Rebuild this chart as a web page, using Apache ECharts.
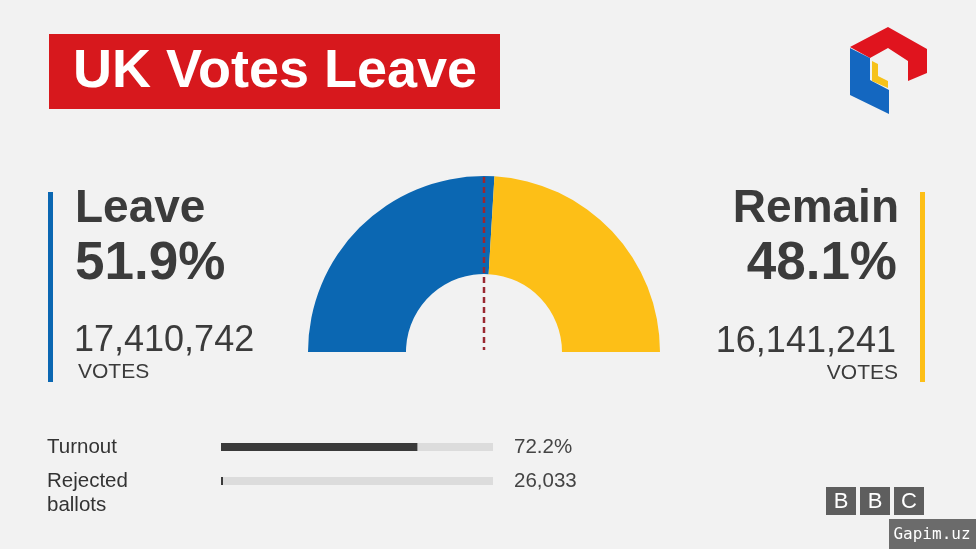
<!DOCTYPE html>
<html><head><meta charset="utf-8">
<style>html,body{margin:0;padding:0;background:#f2f2f2;}#c{width:976px;height:549px;}</style>
<script src="https://cdn.jsdelivr.net/npm/echarts@6/dist/echarts.min.js"></script>
</head><body><div id="c"></div>
<script>
// ---- data ----
const titleText = 'UK Votes Leave';
const sides = ['Leave', 'Remain'];
const votes = [17410742, 16141241];
const percents = ['51.9%', '48.1%'];
const voteTexts = ['17,410,742', '16,141,241'];
const sideColors = ['#0b67b2', '#fdbf17'];
const barLabels = ['Turnout', 'Rejected\nballots'];
const barValues = [72.2, 0.08];
const barTexts = ['72.2%', '26,033'];

const FONT = '"Liberation Sans", Arial, sans-serif';
const TXT = '#3b3b3b';
const chart = echarts.init(document.getElementById('c'), null, {renderer: 'canvas'});

const pieData = sides.map((s, i) => ({name: s, value: votes[i], itemStyle: {color: sideColors[i]}}));
pieData.push({name: 'hidden', value: votes[0] + votes[1], itemStyle: {color: 'rgba(0,0,0,0)'}});

const g = [];
// title box
g.push({type: 'rect', shape: {x: 49, y: 34, width: 451, height: 75}, style: {fill: '#d7181d'}});
g.push({type: 'text', x: 275, y: 72, style: {text: titleText, fill: '#fff', font: 'bold 54px ' + FONT, align: 'center', verticalAlign: 'middle'}});
// side bars
g.push({type: 'rect', shape: {x: 48, y: 192, width: 5, height: 190}, style: {fill: sideColors[0]}});
g.push({type: 'rect', shape: {x: 920, y: 192, width: 5, height: 190}, style: {fill: sideColors[1]}});
// left texts
g.push({type: 'text', x: 75, y: 209, style: {text: sides[0], fill: TXT, font: 'bold 46px ' + FONT, align: 'left', verticalAlign: 'middle'}});
g.push({type: 'text', x: 75, y: 264, style: {text: percents[0], fill: TXT, font: 'bold 53px ' + FONT, align: 'left', verticalAlign: 'middle'}});
g.push({type: 'text', x: 74, y: 341, style: {text: voteTexts[0], fill: TXT, font: '36px ' + FONT, align: 'left', verticalAlign: 'middle'}});
g.push({type: 'text', x: 78, y: 372, style: {text: 'VOTES', fill: TXT, font: '21px ' + FONT, align: 'left', verticalAlign: 'middle'}});
// right texts
g.push({type: 'text', x: 899, y: 209, style: {text: sides[1], fill: TXT, font: 'bold 46px ' + FONT, align: 'right', verticalAlign: 'middle'}});
g.push({type: 'text', x: 897, y: 264, style: {text: percents[1], fill: TXT, font: 'bold 53px ' + FONT, align: 'right', verticalAlign: 'middle'}});
g.push({type: 'text', x: 896, y: 342, style: {text: voteTexts[1], fill: TXT, font: '36px ' + FONT, align: 'right', verticalAlign: 'middle'}});
g.push({type: 'text', x: 898, y: 373, style: {text: 'VOTES', fill: TXT, font: '21px ' + FONT, align: 'right', verticalAlign: 'middle'}});
// dashed midline
g.push({type: 'line', z: 100, shape: {x1: 484, y1: 177, x2: 484, y2: 350}, style: {stroke: '#9a2830', lineWidth: 2.5, lineDash: [6, 4]}});
// bottom labels
const rowY = [447, 481];
barLabels.forEach((l, i) => {
  l.split('\n').forEach((line, j) => {
    g.push({type: 'text', x: 47, y: rowY[i] + j * 24, style: {text: line, fill: '#333', font: '20.5px ' + FONT, align: 'left', verticalAlign: 'middle'}});
  });
  g.push({type: 'text', x: 514, y: rowY[i], style: {text: barTexts[i], fill: '#444', font: '20.5px ' + FONT, align: 'left', verticalAlign: 'middle'}});
});
// BBC blocks
['B', 'B', 'C'].forEach((ch, i) => {
  const x = 826 + i * 34;
  g.push({type: 'rect', shape: {x: x, y: 487, width: 30, height: 28}, style: {fill: '#5e5e5e'}});
  g.push({type: 'text', x: x + 15, y: 502, style: {text: ch, fill: '#fff', font: '22px ' + FONT, align: 'center', verticalAlign: 'middle'}});
});
// watermark
g.push({type: 'rect', shape: {x: 889, y: 519, width: 87, height: 30}, style: {fill: '#6b6b6b'}});
g.push({type: 'text', x: 932, y: 535, style: {text: 'Gapim.uz', fill: '#fff', font: '16px "DejaVu Sans Mono", monospace', align: 'center', verticalAlign: 'middle'}});
// logo
g.push({type: 'polygon', shape: {points: [[850,47],[888,27],[927,49],[927,73],[908,81],[908,61],[888,48],[870,58]]}, style: {fill: '#e0141e'}});
g.push({type: 'polygon', shape: {points: [[850,48],[870,58],[870,80],[889,90],[889,114],[850,95]]}, style: {fill: '#1467c0'}});
g.push({type: 'polygon', shape: {points: [[872,61],[878,64],[878,76],[888,81],[888,88],[872,81]]}, style: {fill: '#f6c21a'}});

chart.setOption({
  backgroundColor: '#f2f2f2',
  animation: false,
  grid: {left: 221, width: 272, top: 430, height: 68},
  xAxis: {type: 'value', min: 0, max: 100, show: false},
  yAxis: {type: 'category', data: barLabels, inverse: true, show: false},
  series: [
    {
      type: 'pie', silent: true, center: [484, 352], radius: [78, 176],
      startAngle: 180, clockwise: true, label: {show: false}, labelLine: {show: false},
      data: pieData
    },
    {
      type: 'bar', silent: true, data: barValues, barWidth: 8, barMinHeight: 2,
      showBackground: true, backgroundStyle: {color: '#dcdcdc'},
      itemStyle: {color: '#3a3a3a'}
    }
  ],
  graphic: g
});
</script></body></html>
